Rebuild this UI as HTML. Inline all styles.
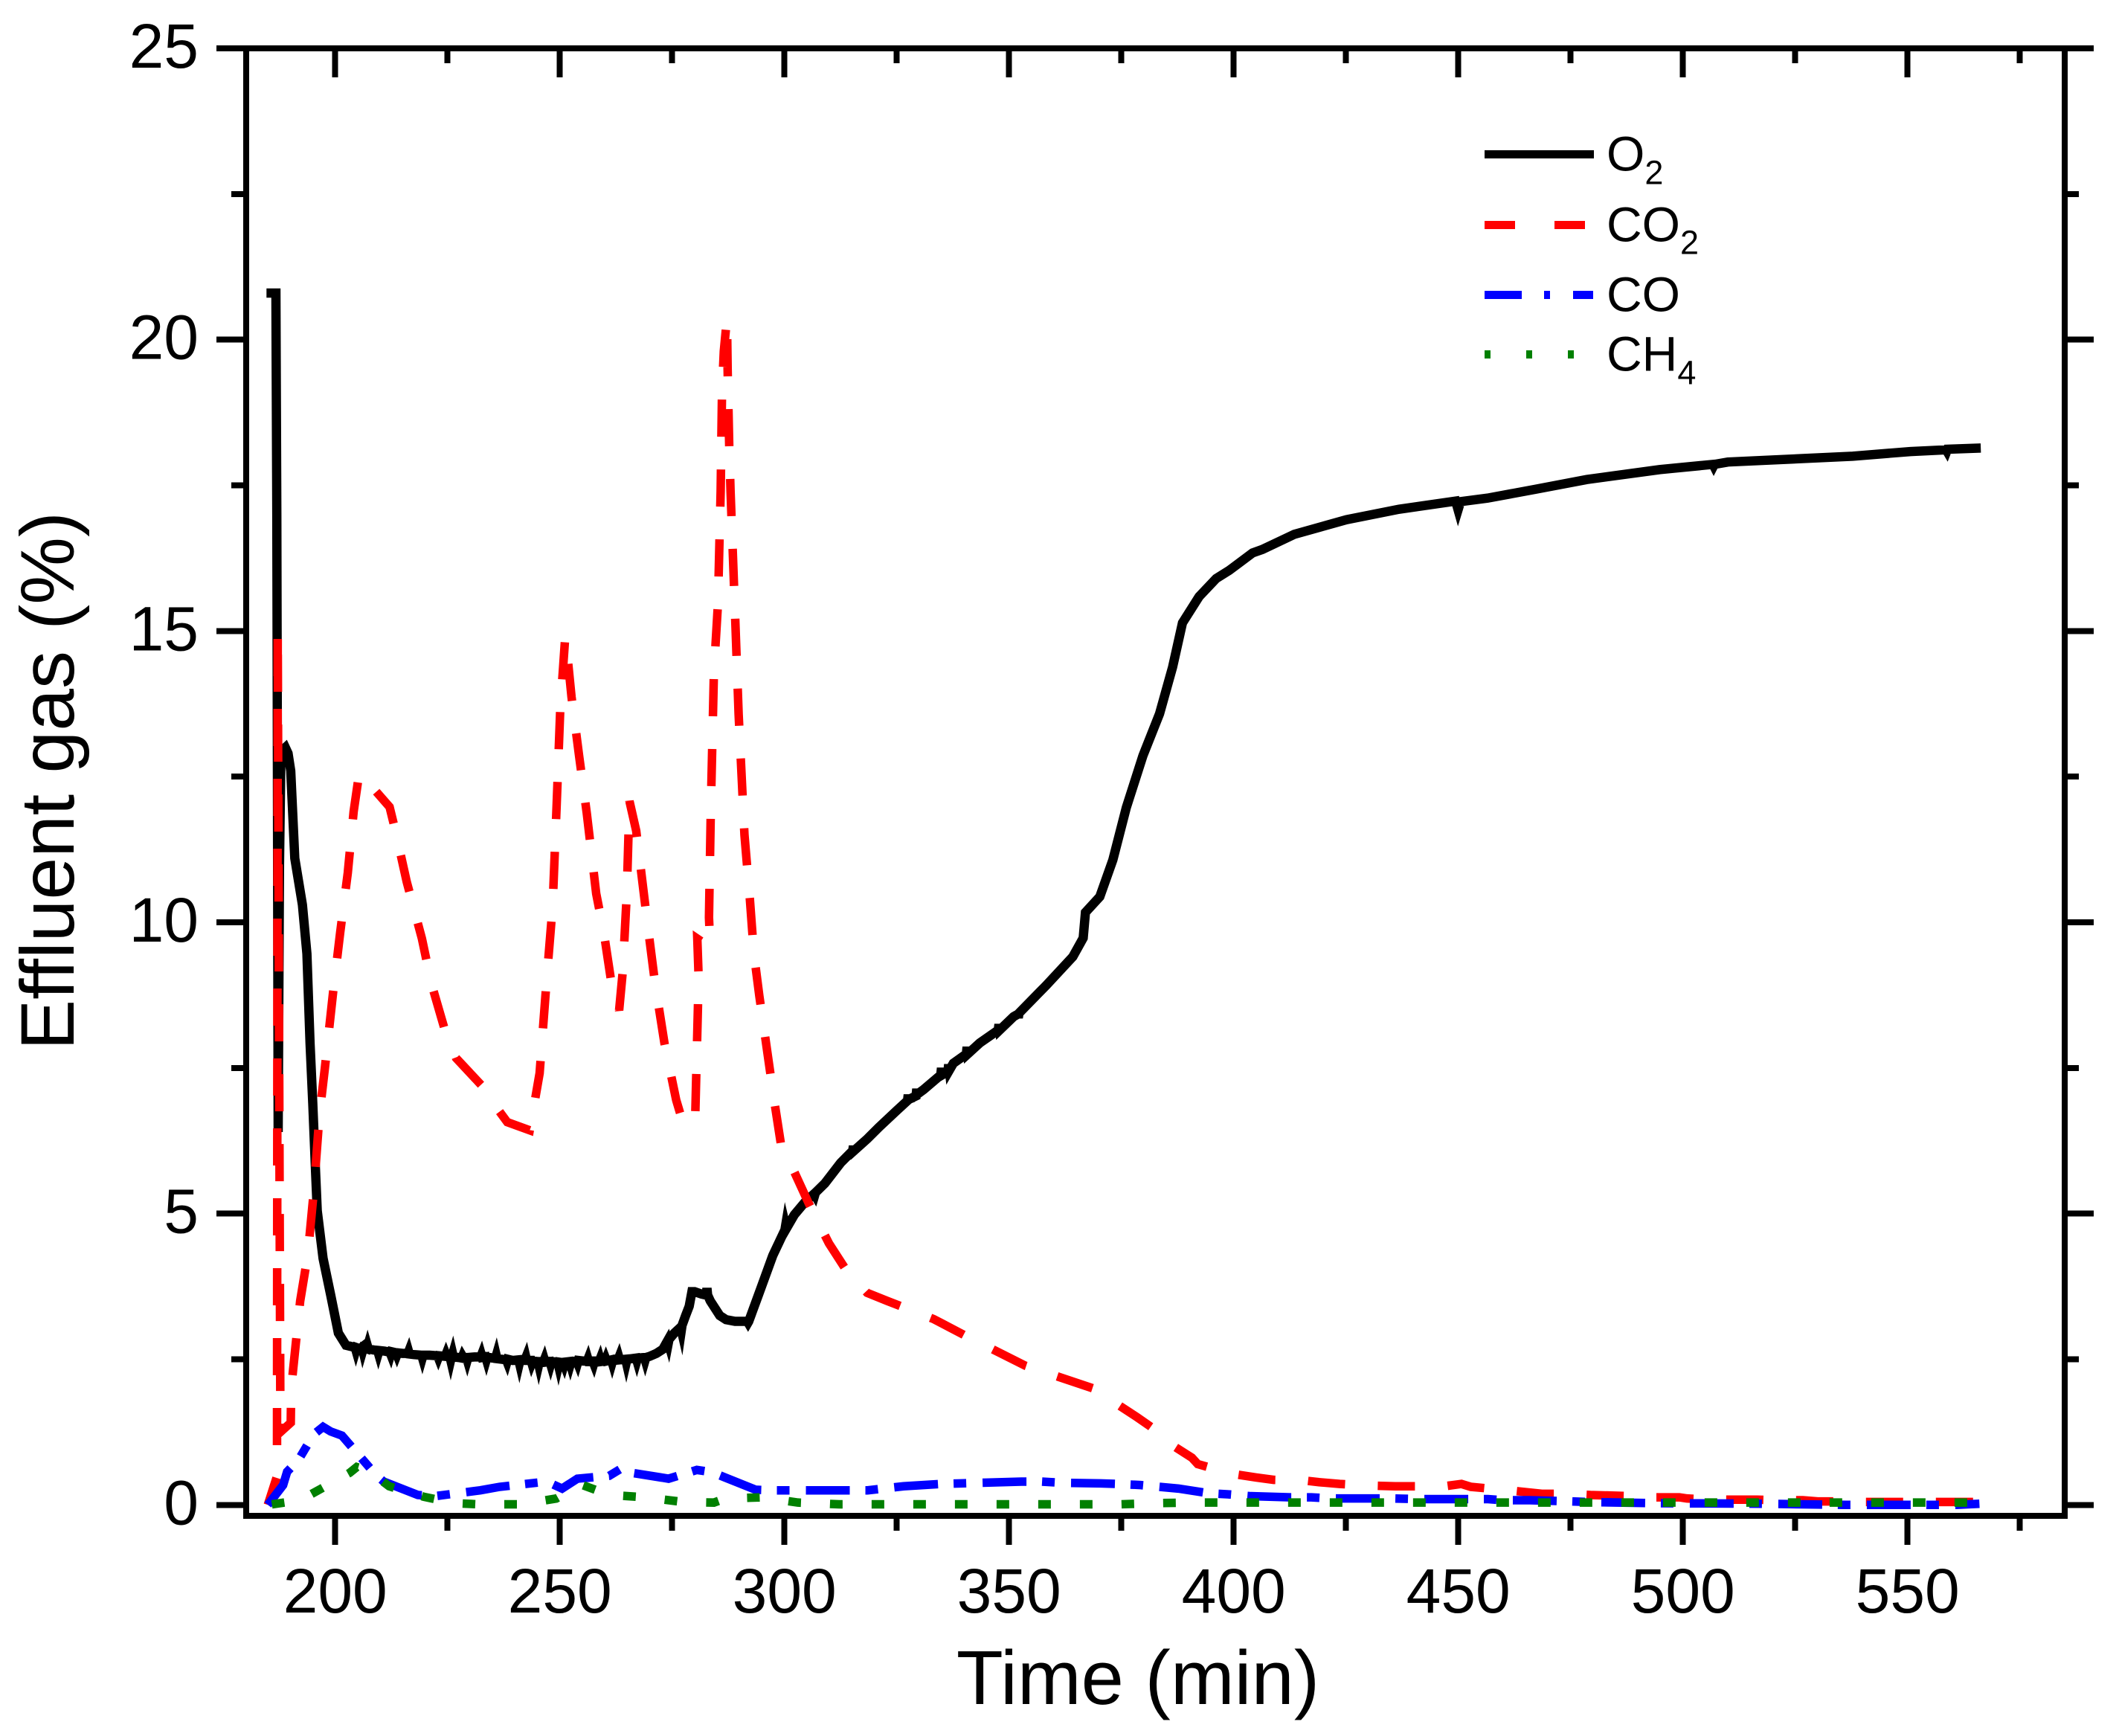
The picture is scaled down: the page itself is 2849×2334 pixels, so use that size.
<!DOCTYPE html>
<html lang="en">
<head>
<meta charset="utf-8">
<title>Effluent gas vs time</title>
<style>
  html, body { margin: 0; padding: 0; background: #fff; }
  svg { display: block; }
  text { font-family: "Liberation Sans", Arial, sans-serif; fill: #000; }
</style>
</head>
<body>
<svg id="chart" xmlns="http://www.w3.org/2000/svg" width="2849" height="2334" viewBox="0 0 2849 2334">
  <rect x="0" y="0" width="2849" height="2334" fill="#fff"/>
  <g id="series-layer"></g>
  <g id="axes-layer"></g>
  <text x="1530" y="2291" font-size="103" text-anchor="middle">Time (min)</text>
  <text transform="translate(99 1050) rotate(-90)" font-size="102" text-anchor="middle">Effluent gas (%)</text>
  <g>
    <g>
      <line x1="1996" x2="2143" y1="207.5" y2="207.5" stroke="#000" stroke-width="11"/>
      <text x="2160" y="229.5" font-size="66">O<tspan font-size="45" dy="18">2</tspan></text>
    </g>
    <g>
      <line x1="1996" x2="2131" y1="302.5" y2="302.5" stroke="#f00" stroke-width="11" stroke-dasharray="41 53"/>
      <text x="2160" y="324.5" font-size="66">CO<tspan font-size="45" dy="17">2</tspan></text>
    </g>
    <g>
      <line x1="1996" x2="2142" y1="396.5" y2="396.5" stroke="#00f" stroke-width="11" stroke-dasharray="50 30 8 31 27 100"/>
      <text x="2160" y="418.5" font-size="66">CO</text>
    </g>
    <g>
      <line x1="1996" x2="2116" y1="476.5" y2="476.5" stroke="#008000" stroke-width="11" stroke-dasharray="8 48"/>
      <text x="2160" y="498.5" font-size="66">CH<tspan font-size="45" dy="18">4</tspan></text>
    </g>
  </g>
</svg>
<script>
var xMajorTicks = [200, 250, 300, 350, 400, 450, 500, 550];
var xMinorTicks = [225, 275, 325, 375, 425, 475, 525, 575];
var yMajorTicks = [0, 5, 10, 15, 20, 25];
var yMinorTicks = [2.5, 7.5, 12.5, 17.5, 22.5];

var o2Time = [
  184.7,186.8,187.0,187.15,187.3,187.6,187.9,188.2,188.9,189.5,190.1,191,192.7,193.7,194.4,195,195.6,196,197.3,199,200.7,202.4,
  203.5,204.45,204.6,204.75,205.5,206.0,206.15,206.3,207.05,207.2,207.35,208.5,209.45,209.6,209.75,211,
  212.2,212.35,212.5,213.6,213.75,213.9,215,216.2,216.35,216.5,217.5,219.25,219.4,219.55,221,
  222.8,222.95,223.1,224.5,224.65,224.8,225.55,225.7,225.85,226.0,226.15,226.3,227.5,228.2,228.35,228.5,229.25,229.4,229.55,231,
  232.4,232.55,232.7,233.5,233.65,233.8,235,235.7,235.85,236,237,238.1,238.25,238.4,239.5,240.85,241,241.15,
  242.3,242.45,242.6,243.6,243.75,243.9,245.15,245.3,245.45,246.4,246.55,246.7,247.8,247.95,248.1,249.55,249.7,249.85,
  250.8,250.95,251.1,252.2,252.35,252.5,253.8,253.95,254.1,255.2,256.1,256.25,256.4,257.4,257.55,257.7,258.8,258.95,259.1,
  260.1,260.25,260.4,261.5,261.65,261.8,263,263.15,263.3,264.65,264.8,264.95,266,267,267.15,267.3,268.85,269,269.15,270,
  271.5,272.9,274,274.15,274.3,275.5,276.9,277.05,277.2,278,278.8,279.4,280,281.5,282.6,282.75,282.9,283.5,285.6,287,289,291.75,291.9,292.05,294,297.4,
  300.1,300.25,300.4,302.2,304.6,306.6,306.75,306.9,309,312.5,315.2,315.35,315.5,318.4,321,325,327.4,327.55,327.7,329.3,329.45,329.6,331,
  334.8,334.95,335.1,336.4,336.55,336.7,337.6,340.5,340.65,340.8,343.5,347.6,347.75,347.9,351,351.9,352.05,352.2,358.3,364.2,366.5,367,370.2,373.1,
  376.1,379.8,383.5,386.4,388.6,392.3,396.1,399,404.2,406.4,413.5,425.1,436.8,449.4,449.95,450.5,456.5,467,478.6,494.8,506.7,506.85,507,510,537.8,
  550.6,558.6,558.75,558.9,566.3
];
var o2Values = [
  20.8,20.8,17,12,6.4,11,12.8,12.95,13.0,12.9,12.6,11.1,10.3,9.46,7.92,6.9,5.77,5.05,4.23,3.6,2.95,2.74,
  2.72,2.70,2.66,2.70,2.68,2.71,2.66,2.70,2.68,2.72,2.68,2.66,2.65,2.61,2.65,2.64,
  2.62,2.59,2.63,2.61,2.58,2.61,2.60,2.60,2.63,2.59,2.58,2.57,2.53,2.57,2.57,
  2.56,2.53,2.56,2.55,2.58,2.55,2.54,2.49,2.54,2.55,2.59,2.54,2.53,2.52,2.55,2.53,2.53,2.49,2.53,2.54,
  2.54,2.57,2.53,2.54,2.50,2.54,2.52,2.52,2.56,2.51,2.50,2.49,2.46,2.50,2.48,2.49,2.44,2.49,
  2.50,2.53,2.48,2.48,2.44,2.47,2.46,2.41,2.46,2.46,2.49,2.45,2.46,2.42,2.46,2.45,2.40,2.45,
  2.44,2.41,2.45,2.46,2.42,2.46,2.47,2.44,2.48,2.47,2.47,2.50,2.46,2.46,2.43,2.47,2.47,2.50,2.46,
  2.47,2.50,2.47,2.49,2.45,2.49,2.50,2.53,2.49,2.50,2.45,2.50,2.51,2.52,2.48,2.52,2.53,2.49,2.53,2.55,
  2.6,2.67,2.82,2.78,2.84,2.95,3.05,3.0,3.08,3.25,3.41,3.66,3.66,3.62,3.6,3.72,3.6,3.5,3.25,3.18,3.15,3.15,3.13,3.15,3.56,4.28,
  4.72,4.79,4.74,4.98,5.2,5.34,5.32,5.36,5.52,5.87,6.08,6.16,6.08,6.28,6.48,6.77,6.94,7.04,6.96,7.02,7.14,7.05,7.13,
  7.38,7.5,7.38,7.44,7.56,7.46,7.58,7.74,7.86,7.74,7.93,8.15,8.25,8.15,8.38,8.42,8.36,8.44,8.92,9.41,9.73,10.17,10.44,11.07,
  11.97,12.86,13.58,14.38,15.14,15.59,15.9,16.04,16.34,16.4,16.66,16.91,17.09,17.23,17.08,17.22,17.28,17.43,17.6,17.77,17.86,17.837,17.86,17.9,18.0,
  18.08,18.11,18.09,18.12,18.14
];

var co2Time = [
  185,187.04,187.2,187.8,190.1,190.2,192.2,193.9,195.2,196.5,197.7,199.6,201.1,202.8,204.1,205.3,208.7,212.1,213.4,215.9,
  219.3,221.4,224.3,226.9,233.2,236.2,238.3,243.3,245.5,247.1,248.4,249.3,250.1,251.2,251.8,252.6,254.3,256,258.1,259.8,
  261.5,263.2,264,264.9,265.5,267,269.5,271.2,273.3,275.9,277.1,280.1,280.5,280.9,280.6,283.5,283.2,283.6,284.3,285.2,
  285.8,286.1,286.5,287.2,287.35,287.7,288,289,289.8,291.1,292.3,293.2,294.4,296.1,297.8,299.2,301.8,305.5,309.9,314,
  318.4,322.9,327.3,333.2,339.9,353.6,368.7,378.4,382.7,385.2,390.7,392,396.6,400,405,408.9,415.6,419,423.6,431.2,
  435.9,443.9,446.9,450.7,452.8,457,460,465,468.8,474.7,479.4,488.7,492.9,499.2,500.9,506.8,510.6,516.5,521.2,526.7,
  530,537.2,540.6,546.1,551.6,558.8,566
];
var co2Values = [
  0,0.49,15.01,1.25,1.41,2.0,3.5,4.3,5.36,6.7,7.5,8.85,9.82,10.85,11.9,12.54,12.28,11.98,11.57,10.7,
  9.72,8.95,8.18,7.67,7.15,6.79,6.57,6.43,7.41,9.05,10.28,12.03,13.67,14.9,14.49,13.87,12.85,11.87,10.49,9.82,
  8.95,8.49,9.15,10.49,12.08,11.57,9.98,8.95,7.92,6.95,6.64,6.54,7.8,9.05,9.72,9.57,10.08,11.9,14.3,15.47,
  17.4,19.1,19.8,20.37,19.5,18.2,17.4,15.3,13.57,11.5,10.4,9.46,8.74,7.82,6.9,6.2,5.78,5.16,4.49,4.0,
  3.64,3.5,3.37,3.19,2.92,2.39,2.0,1.51,1.28,1.08,0.81,0.7,0.6,0.53,0.47,0.43,0.42,0.39,0.36,0.33,
  0.32,0.32,0.32,0.36,0.31,0.28,0.26,0.22,0.19,0.19,0.17,0.15,0.13,0.13,0.11,0.09,0.09,0.09,0.08,0.08,
  0.06,0.06,0.05,0.05,0.05,0.05,0.05
];

var coTime = [
  185,188.4,189.3,191.8,195.2,197.3,199,201.5,206.2,209.1,210.8,218.4,222.2,232.3,236.6,247.1,250.5,253.9,261,264,
  266.1,274.2,280.5,283.9,286.8,293.6,297.4,310.9,316,318.5,326.5,335,339.2,343.8,352.7,357.3,361.6,370.4,374.2,379.3,
  387.7,394.5,399.1,403.8,412.7,417.3,421.5,431.2,435.9,440.5,456.6,460,465.9,475.2,478.5,494.2,517.4,536.4,560.9,566
];
var coValues = [
  0,0.34,0.57,0.77,1.21,1.34,1.26,1.19,0.77,0.51,0.4,0.17,0.15,0.25,0.31,0.4,0.28,0.45,0.5,0.64,
  0.55,0.45,0.6,0.56,0.47,0.26,0.25,0.25,0.25,0.25,0.32,0.36,0.37,0.38,0.4,0.4,0.38,0.37,0.36,0.34,
  0.28,0.2,0.18,0.15,0.13,0.13,0.11,0.11,0.11,0.1,0.1,0.08,0.08,0.06,0.05,0.03,0.02,0,0,0.02
];

var ch4Time = [
  185.9,192.2,196.9,203.2,204.8,207.4,212,219.7,226.4,231.9,241.3,249.2,254.7,261.1,269.1,277.5,284.3,286.8,294.9,303,
  312.2,330,350,374.6,382.7,391.1,400.4,435.5,500,566
];
var ch4Values = [
  0.01,0.08,0.28,0.55,0.65,0.59,0.32,0.14,0.03,0.01,0.01,0.11,0.35,0.17,0.13,0.05,0.04,0.11,0.13,0.04,
  0.01,0.01,0.01,0.01,0.03,0.04,0.04,0.04,0.04,0.04
];

var SVG_NS = 'http://www.w3.org/2000/svg';
var seriesLayer = document.getElementById('series-layer');
var axesLayer = document.getElementById('axes-layer');

function xScale(v) { return 450.7 + (v - 200) * 6.04; }
function yScale(v) { return 2023.3 - v * 78.33; }

function pathFrom(times, values) {
  var d = '';
  for (var i = 0; i < times.length; i++) {
    d += (i ? 'L' : 'M') + xScale(times[i]).toFixed(2) + ' ' + yScale(values[i]).toFixed(2);
  }
  return d;
}

function drawSeries(name, times, values, color, width, dash, offset, miter) {
  var p = document.createElementNS(SVG_NS, 'path');
  
  
  p.setAttribute('d', pathFrom(times, values));
  p.setAttribute('fill', 'none');
  p.setAttribute('stroke', color);
  p.setAttribute('stroke-width', width);
  p.setAttribute('stroke-linejoin', 'miter');
  p.setAttribute('stroke-miterlimit', miter);
  if (dash) p.setAttribute('stroke-dasharray', dash);
  if (offset) p.setAttribute('stroke-dashoffset', offset);
  seriesLayer.appendChild(p);
}

function axisRect(name, x, y, w, h) {
  var r = document.createElementNS(SVG_NS, 'rect');
  
  
  r.setAttribute('x', x);
  r.setAttribute('y', y);
  r.setAttribute('width', w);
  r.setAttribute('height', h);
  r.setAttribute('fill', '#000');
  r.setAttribute('shape-rendering', 'crispEdges');
  axesLayer.appendChild(r);
}

function axisLabel(name, x, y, anchor, str) {
  var t = document.createElementNS(SVG_NS, 'text');
  
  
  t.setAttribute('x', x);
  t.setAttribute('y', y);
  t.setAttribute('font-size', '84');
  t.setAttribute('text-anchor', anchor);
  t.textContent = str;
  axesLayer.appendChild(t);
}

drawSeries('series-o2', o2Time, o2Values, '#000', '12.5', '', '', '6');
drawSeries('series-co2', co2Time, co2Values, '#f00', '11.5', '50 44', '11.8', '4');
drawSeries('series-co', coTime, coValues, '#00f', '11.5', '59 21 17 22', '', '4');
drawSeries('series-ch4', ch4Time, ch4Values, '#008000', '11.5', '17 39', '', '4');

axisRect('axis-left', 327, 61, 8, 1981);
axisRect('axis-right', 2772, 61, 8, 1981);
axisRect('axis-bottom', 327, 2034, 2453, 8);

xMajorTicks.forEach(function (v) {
  var x = xScale(v);
  axisRect('x-tick-bottom-' + v, x - 4, 2042, 8, 35);
  axisRect('x-tick-top-' + v, x - 4, 69, 8, 35);
  axisLabel('x-tick-label-' + v, x, 2168, 'middle', String(v));
});
xMinorTicks.forEach(function (v) {
  var x = xScale(v);
  axisRect('x-minor-tick-bottom-' + v, x - 4, 2042, 8, 16);
  axisRect('x-minor-tick-top-' + v, x - 4, 69, 8, 16);
});
yMajorTicks.forEach(function (v) {
  var y = yScale(v);
  axisRect('y-tick-left-' + v, 291, y - 4, 36, 8);
  axisRect('y-tick-right-' + v, 2780, y - 4, 35, 8);
  axisLabel('y-tick-label-' + v, 267, y + 26, 'end', String(v));
});
yMinorTicks.forEach(function (v) {
  var y = yScale(v);
  axisRect('y-minor-tick-left-' + v, 311, y - 4, 16, 8);
  axisRect('y-minor-tick-right-' + v, 2780, y - 4, 15, 8);
});
axisRect('axis-top', 291, 61, 2524, 8);
</script>
</body>
</html>
